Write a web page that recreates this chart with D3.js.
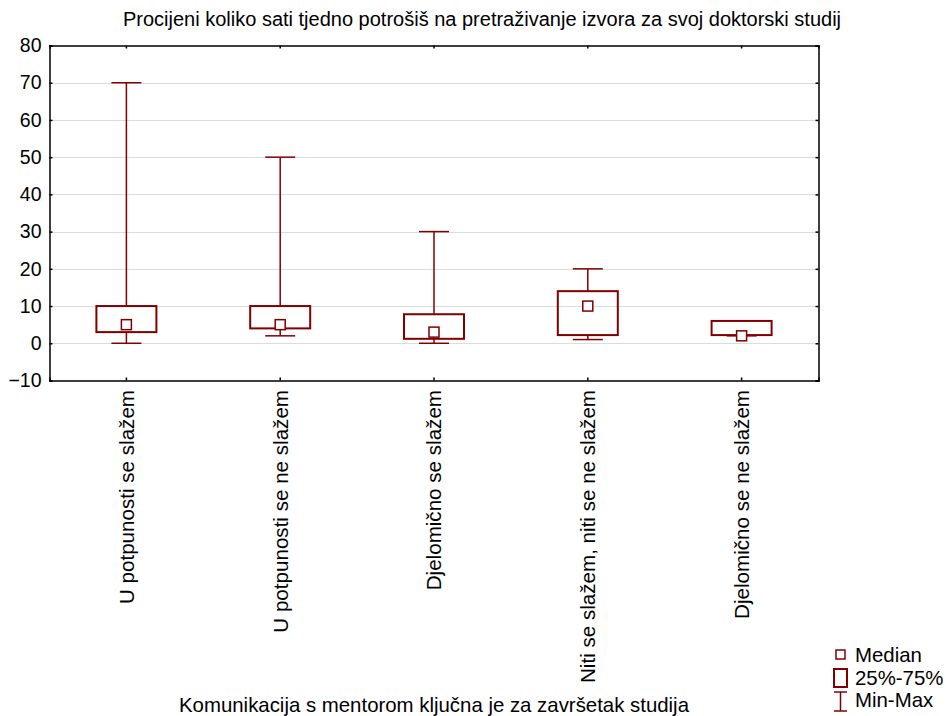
<!DOCTYPE html>
<html><head><meta charset="utf-8">
<script src="https://cdn.jsdelivr.net/npm/d3@7"></script>
<style>body{margin:0;background:#fff;} text{font-family:"Liberation Sans",Arial,sans-serif;fill:#000;}</style>
</head><body>
<svg id="c" width="946" height="716"></svg>
<script>
const categories = ["U potpunosti se slažem","U potpunosti se ne slažem","Djelomično se slažem","Niti se slažem, niti se ne slažem","Djelomično se ne slažem"];
const minVals = [0, 2, 0, 1, 2];
const q1Vals = [3, 4, 1.2, 2.2, 2.2];
const medianVals = [5, 5, 3, 10, 2];
const q3Vals = [10, 10, 7.8, 14, 6];
const maxVals = [70, 50, 30, 20, 6];
const yTicks = [-10,0,10,20,30,40,50,60,70,80];
const title = "Procijeni koliko sati tjedno potrošiš na pretraživanje izvora za svoj doktorski studij";
const xTitle = "Komunikacija s mentorom ključna je za završetak studija";
const legendItems = ["Median","25%-75%","Min-Max"];

const col = "#800000";
const svg = d3.select("#c");
const L = 49.5, R = 818.5, T = 45.5, B = 380.5;
const x = d3.scaleBand().domain(categories).range([L, R]);
const y = d3.scaleLinear().domain([-10, 80]).range([B, T]);

// gridlines
svg.append("g").selectAll("line").data(yTicks.filter(d => d > -10 && d < 80)).join("line")
  .attr("x1", L).attr("x2", R).attr("y1", d => Math.round(y(d)) + 0.5).attr("y2", d => Math.round(y(d)) + 0.5)
  .attr("stroke", "#dcdcdc").attr("stroke-width", 1);

// axes
const gl = svg.append("g").attr("transform", `translate(${L},0)`).call(d3.axisLeft(y).tickValues(yTicks).tickSize(-3).tickPadding(8));
const gr = svg.append("g").attr("transform", `translate(${R},0)`).call(d3.axisRight(y).tickValues(yTicks).tickSize(-3).tickFormat(""));
const gb = svg.append("g").attr("transform", `translate(0,${B})`).call(d3.axisBottom(x).tickSize(-3).tickFormat(""));
const gt = svg.append("g").attr("transform", `translate(0,${T})`).call(d3.axisTop(x).tickSize(-3).tickFormat(""));
[gl, gr, gb, gt].forEach(g => { g.select(".domain").attr("stroke", "#000").attr("stroke-width", 1.5); g.selectAll(".tick line").attr("stroke", "#000").attr("stroke-width", 1.5); });
gl.selectAll(".tick text").attr("font-size", 19.5).style("font-family", '"Liberation Sans",Arial,sans-serif').attr("fill", "#000");

// category labels
svg.append("g").selectAll("text").data(categories).join("text")
  .attr("transform", d => `translate(${x(d) + x.bandwidth()/2},390) rotate(-90)`)
  .attr("text-anchor", "end").attr("dy", "0.36em").attr("font-size", 20.6).text(d => d);

// boxes
const data = categories.map((c, i) => ({c, min: minVals[i], q1: q1Vals[i], med: medianVals[i], q3: q3Vals[i], max: maxVals[i]}));
const g = svg.append("g");
data.forEach(d => {
  const cx = x(d.c) + x.bandwidth()/2;
  const bw = 60, cw = 30, ms = 10;
  if (d.max > d.q3) {
    g.append("line").attr("x1", cx).attr("x2", cx).attr("y1", y(d.max)).attr("y2", y(d.q3)).attr("stroke", col).attr("stroke-width", 1.5);
    g.append("line").attr("x1", cx - cw/2).attr("x2", cx + cw/2).attr("y1", y(d.max)).attr("y2", y(d.max)).attr("stroke", col).attr("stroke-width", 1.5);
  }
  if (d.min < d.q1) {
    g.append("line").attr("x1", cx).attr("x2", cx).attr("y1", y(d.min)).attr("y2", y(d.q1)).attr("stroke", col).attr("stroke-width", 1.5);
    g.append("line").attr("x1", cx - cw/2).attr("x2", cx + cw/2).attr("y1", y(d.min)).attr("y2", y(d.min)).attr("stroke", col).attr("stroke-width", 1.5);
  }
  g.append("rect").attr("x", cx - bw/2).attr("width", bw).attr("y", y(d.q3)).attr("height", y(d.q1) - y(d.q3))
    .attr("fill", "none").attr("stroke", col).attr("stroke-width", 2);
  g.append("rect").attr("x", cx - ms/2).attr("width", ms).attr("y", y(d.med) - ms/2).attr("height", ms)
    .attr("fill", "#fff").attr("stroke", col).attr("stroke-width", 1.5);
});

// title
svg.append("text").attr("x", 482).attr("y", 26).attr("text-anchor", "middle").attr("font-size", 20).text(title);
svg.append("text").attr("x", 434).attr("y", 712).attr("text-anchor", "middle").attr("font-size", 20.4).text(xTitle);

// legend
const lg = svg.append("g");
lg.append("rect").attr("x", 836).attr("y", 650).attr("width", 9).attr("height", 9).attr("fill", "#fff").attr("stroke", col).attr("stroke-width", 1.5);
lg.append("rect").attr("x", 834).attr("y", 669).attr("width", 13).attr("height", 18).attr("fill", "none").attr("stroke", col).attr("stroke-width", 2);
lg.append("line").attr("x1", 840.5).attr("x2", 840.5).attr("y1", 692).attr("y2", 711).attr("stroke", col).attr("stroke-width", 1.5);
lg.append("line").attr("x1", 834).attr("x2", 847).attr("y1", 692).attr("y2", 692).attr("stroke", col).attr("stroke-width", 1.5);
lg.append("line").attr("x1", 834).attr("x2", 847).attr("y1", 711).attr("y2", 711).attr("stroke", col).attr("stroke-width", 1.5);
lg.selectAll("text.l").data(legendItems).join("text").attr("class", "l")
  .attr("x", 855).attr("y", (d, i) => 662 + i * 22.5).attr("font-size", 20.4).text(d => d);
</script>
</body></html>
